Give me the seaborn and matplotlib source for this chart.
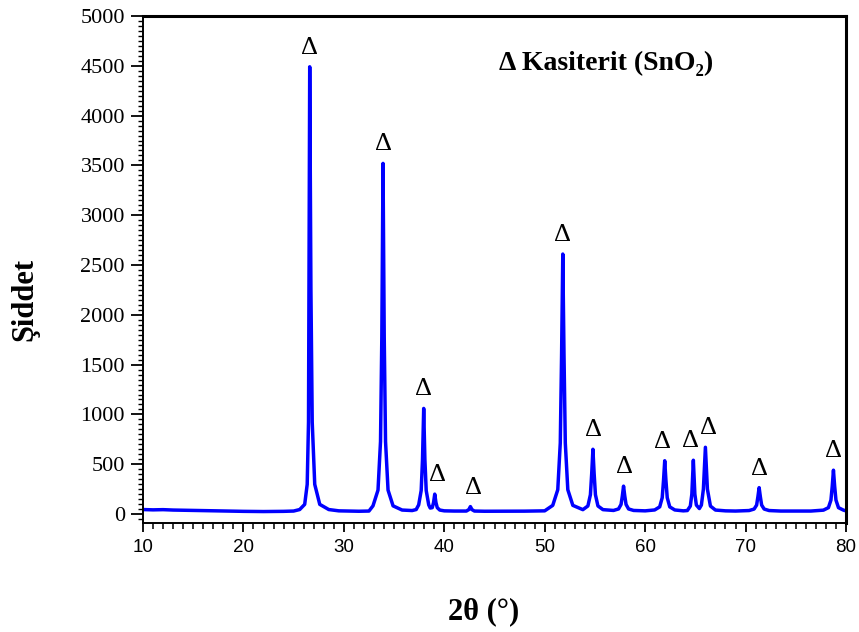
import matplotlib
matplotlib.use("Agg")
import matplotlib.pyplot as plt
from matplotlib.ticker import MultipleLocator
import seaborn as sns
import pandas as pd

# ---- XRD profile (2θ in degrees, intensity in counts) ----
two_theta = [
    10.0, 11.0, 12.0, 13.0, 14.0, 15.0, 16.0, 17.0, 18.0, 19.0, 20.0, 21.0, 22.0, 23.0, 24.0, 25.0,
    25.6, 26.1, 26.35, 26.48, 26.6, 26.72, 26.85, 27.1, 27.6,
    28.5, 29.5, 30.5, 31.5, 32.5,
    32.9, 33.4, 33.65, 33.78, 33.9, 34.02, 34.15, 34.4, 34.9,
    35.8, 36.8,
    37.2, 37.45, 37.7, 37.83, 37.95, 38.07, 38.2, 38.45,
    38.6, 38.8, 38.93, 39.05, 39.17, 39.3, 39.55, 40.0,
    41.0, 42.2, 42.45, 42.6, 42.75, 43.0, 44.0,
    45.0, 46.0, 47.0, 48.0, 49.0, 50.0,
    50.8, 51.3, 51.55, 51.68, 51.8, 51.92, 52.05, 52.3, 52.8,
    53.8, 54.3, 54.55, 54.68, 54.8, 54.92, 55.05, 55.3, 55.8,
    56.85, 57.35, 57.6, 57.73, 57.85, 57.97, 58.1, 58.35, 58.85,
    60.0, 60.95, 61.45, 61.7, 61.83, 61.95, 62.07, 62.2, 62.45, 62.95,
    63.8, 64.2, 64.5, 64.65, 64.72, 64.8, 64.88, 64.95, 65.1, 65.4,
    65.6, 65.8, 65.9, 66.0, 66.1, 66.2, 66.5, 67.0,
    68.0, 69.0, 70.35, 70.85, 71.1, 71.23, 71.35, 71.47, 71.6, 71.85, 72.35,
    73.5, 75.0, 76.5, 77.75, 78.25, 78.5, 78.63, 78.75, 78.87, 79.0, 79.25, 79.75, 80.0,
]
intensity = [
    45, 42, 44, 40, 38, 36, 34, 32, 30, 28, 27, 26, 25, 26, 27, 30,
    45, 97, 298, 922, 4490, 2260, 922, 298, 97,
    45, 32, 30, 28, 30,
    82, 240, 728, 1775, 3520, 1775, 728, 240, 82,
    40, 35,
    45, 92, 236, 545, 1060, 545, 236, 92,
    60, 64, 115, 200, 115, 64, 40, 32,
    30, 30, 45, 75, 45, 30, 28,
    28, 27, 28, 29, 30, 32,
    87, 244, 714, 1600, 2610, 1600, 714, 244, 87,
    44, 81, 194, 408, 650, 408, 194, 81, 44,
    36, 51, 96, 182, 280, 182, 96, 51, 36,
    32, 41, 72, 164, 338, 535, 338, 164, 72, 41,
    32, 35, 80, 200, 360, 540, 360, 200, 90, 55,
    90, 250, 450, 670, 450, 250, 80, 40,
    32, 30, 35, 50, 90, 175, 265, 175, 90, 50, 35,
    30, 30, 30, 39, 64, 140, 280, 440, 280, 140, 64, 39, 32,
]

# ---- SnO2 (cassiterite) peak markers ----
marker_x = [26.6, 33.9, 37.95, 39.05, 42.6, 51.8, 54.8, 57.85, 61.95, 64.8, 66.0, 71.35, 78.75]
marker_y = [4490, 3520, 1060, 200, 75, 2610, 650, 280, 535, 540, 670, 265, 440]
marker_label = "Δ"
# small horizontal nudges (pixels) so neighbouring markers do not collide
marker_dx = [0, 0, 0, 3, 3, 0, 1, 1, -2, -3, 3, 0, 0]

x_ticks = [10, 20, 30, 40, 50, 60, 70, 80]
y_ticks = [0, 500, 1000, 1500, 2000, 2500, 3000, 3500, 4000, 4500, 5000]

x_label = "2θ (°)"
y_label = "Şiddet"
legend_text = "Δ Kasiterit (SnO₂)"

sns.set_style("ticks")
serif = ["Liberation Serif", "DejaVu Serif"]
sans = ["Liberation Sans", "DejaVu Sans"]
plt.rcParams["font.family"] = serif
plt.rcParams.update({
    "text.color": "black", "axes.labelcolor": "black", "axes.edgecolor": "black",
    "xtick.color": "black", "ytick.color": "black",
})

df = pd.DataFrame({"2theta": two_theta, "I": intensity})

fig = plt.figure(figsize=(8.59, 6.32), dpi=100)
ax = fig.add_axes([143 / 859, 1 - 523 / 632, 703 / 859, 507 / 632])

sns.lineplot(data=df, x="2theta", y="I", ax=ax, color="#0000FF", linewidth=2.5,
             sort=False, estimator=None)

for mx, my, dx in zip(marker_x, marker_y, marker_dx):
    ax.annotate(marker_label, xy=(mx, my), xytext=(dx, 19), textcoords="offset pixels",
                ha="center", va="center", fontsize=19, family=serif, color="black")

ax.text(0.507, 0.907, legend_text, transform=ax.transAxes, ha="left", va="center",
        fontsize=20, fontweight="bold", family=serif, color="black")

ax.set_xlim(10, 80)
ax.set_ylim(-90, 5000)
ax.set_xticks(x_ticks)
ax.set_yticks(y_ticks)
ax.xaxis.set_minor_locator(MultipleLocator(1))
ax.yaxis.set_minor_locator(MultipleLocator(50))

ax.tick_params(axis="x", which="major", direction="out", length=6.5, width=1.3, pad=5,
               labelsize=13.5, colors="black")
ax.tick_params(axis="x", which="minor", direction="out", length=4.3, width=1.1, colors="black")
ax.tick_params(axis="y", which="major", direction="out", length=9, width=1.3, pad=4,
               labelsize=16, colors="black")
ax.tick_params(axis="y", which="minor", direction="out", length=3.5, width=1.0, colors="black")
for lab in ax.get_xticklabels():
    lab.set_family(sans)
for lab in ax.get_yticklabels():
    lab.set_family(serif)

for side in ["left", "bottom"]:
    ax.spines[side].set_linewidth(1.4)
for side in ["top", "right"]:
    ax.spines[side].set_linewidth(2.2)
for sp in ax.spines.values():
    sp.set_color("black")

ax.set_xlabel(x_label, fontsize=22, fontweight="bold", family=serif, color="black")
ax.set_ylabel(y_label, fontsize=22, fontweight="bold", family=serif, color="black")
ax.xaxis.set_label_coords(0.484, -0.147)
ax.yaxis.set_label_coords(-0.148, 0.44)

fig.savefig("out.png", dpi=100)
